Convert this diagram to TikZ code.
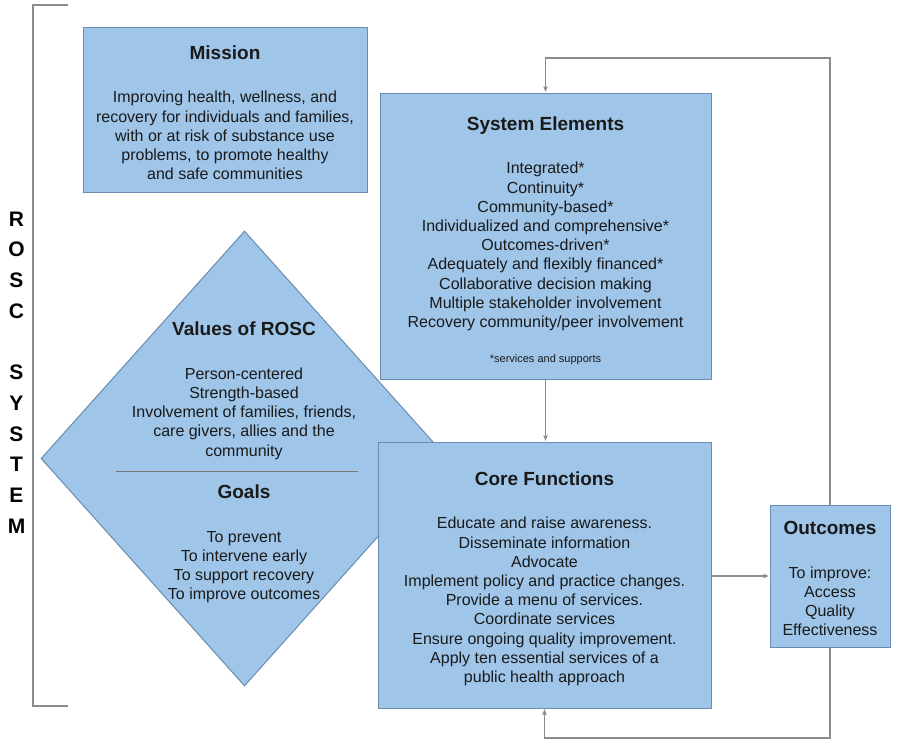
\documentclass[tikz,border=0pt]{standalone}
\usepackage{fontspec}
\setmainfont{Liberation Sans}
\usetikzlibrary{arrows.meta,shapes.geometric,positioning}
\definecolor{roscfill}{HTML}{9FC5E8}
\definecolor{roscedge}{HTML}{6A8CAF}
\definecolor{linkgray}{HTML}{8C8C8C}
\definecolor{inkdark}{HTML}{1A1A1A}
\tikzset{
    block/.style={draw=roscedge, fill=roscfill, line width=1pt, inner sep=0pt, align=center, text=inkdark, font=\fontsize{16}{19.2}\selectfont},
    diamondbox/.style={diamond, draw=roscedge, fill=roscfill, line width=1pt, inner sep=0pt, minimum width=407pt, minimum height=455pt},
    plaintext/.style={inner sep=0pt, align=center, text=inkdark, font=\fontsize{16}{19.2}\selectfont},
    sidetitle/.style={inner sep=0pt, align=center, text=black, font=\fontsize{21}{30.7}\selectfont\bfseries},
    link/.style={-{Latex[length=6pt, width=5pt]}, draw=linkgray, line width=1.2pt},
    bracket/.style={draw=linkgray, line width=1.2pt},
    divider/.style={draw=linkgray!85!black, line width=0.9pt}
}
\newcommand{\heading}[2][13.9pt]{\rule{0pt}{#1}{\fontsize{19}{19.2}\selectfont\bfseries #2}\\[24.5pt]}

\begin{document}
\begin{tikzpicture}[x=1pt, y=-1pt]
    \useasboundingbox[fill=white] (0,0) rectangle (897,747);
    \draw[bracket] (68,5) -- (33,5) -- (33,706) -- (68,706);
    \node[sidetitle] (rosc) at (16.5,372.5) {R\\O\\S\\C\\[30.7pt]S\\Y\\S\\T\\E\\M};
    \node[diamondbox] (values) at (244.5,458.5) {};
    \node[plaintext, anchor=north] (valuestext) at (244,321.5) {\heading{Values of ROSC}Person-centered\\Strength-based\\Involvement of families, friends,\\care givers, allies and the\\community};
    \draw[divider] (116,471) -- (358,471);
    \node[plaintext, anchor=north] (goalstext) at (244,484.5) {\heading{Goals}To prevent\\To intervene early\\To support recovery\\To improve outcomes};
    \node[block, minimum width=284pt, minimum height=165pt] (mission) at (225,109.5) {\heading[19.9pt]{Mission}Improving health, wellness, and\\recovery for individuals and families,\\with or at risk of substance use\\problems, to promote healthy\\and safe communities};
    \node[block, minimum width=331pt, minimum height=286pt] (elements) at (545.5,236) {\heading[22.9pt]{System Elements}Integrated*\\Continuity*\\Community-based*\\Individualized and comprehensive*\\Outcomes-driven*\\Adequately and flexibly financed*\\Collaborative decision making\\Multiple stakeholder involvement\\Recovery community/peer involvement\\[15.8pt]{\fontsize{11}{19.2}\selectfont *services and supports}};
    \node[block, minimum width=333pt, minimum height=266pt] (functions) at (544.5,575) {\heading[20.9pt]{Core Functions}Educate and raise awareness.\\Disseminate information\\Advocate\\Implement policy and practice changes.\\Provide a menu of services.\\Coordinate services\\Ensure ongoing quality improvement.\\Apply ten essential services of a\\public health approach};
    \node[block, minimum width=120pt, minimum height=142pt] (outcomes) at (830,576) {\heading[18.4pt]{Outcomes}To improve:\\Access\\Quality\\Effectiveness};
    \coordinate (loopup) at (830,58);
    \coordinate (loopdown) at (830,738);
    \draw[link] (elements.south) -- (elements.south |- functions.north);
    \draw[link] (functions.east |- outcomes.west) -- (outcomes.west);
    \draw[link] (outcomes.north) -- (loopup) -| (elements.north);
    \draw[link] (outcomes.south) -- (loopdown) -| (functions.south);
\end{tikzpicture}
\end{document}
